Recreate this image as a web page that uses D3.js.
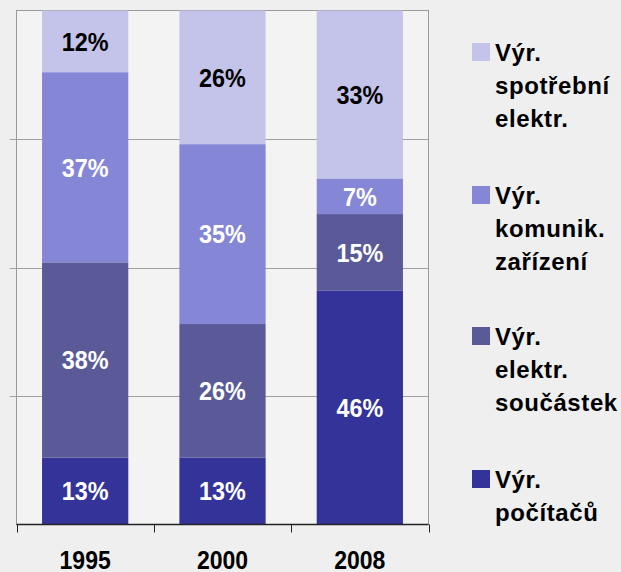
<!DOCTYPE html>
<html>
<head>
<meta charset="utf-8">
<script src="https://cdn.jsdelivr.net/npm/d3@7"></script>
<style>
  body { margin: 0; background: #efefef; }
  text { font-family: "Liberation Sans", Arial, sans-serif; font-weight: bold; }
</style>
</head>
<body>
<script>
// data
var years = ['1995', '2000', '2008'];
var seriesNames = ['Výr. počítačů', 'Výr. elektr. součástek', 'Výr. komunik. zařízení', 'Výr. spotřební elektr.'];
var pocitacu = [13, 13, 46];
var soucastek = [38, 26, 15];
var komunik = [37, 35, 7];
var spotrebni = [12, 26, 33];
var legendLines = [['Výr.', 'počítačů'], ['Výr.', 'elektr.', 'součástek'], ['Výr.', 'komunik.', 'zařízení'], ['Výr.', 'spotřební', 'elektr.']];
var yTicks = [0, 0.25, 0.5, 0.75, 1];

var colors = ['#333399', '#5a5a99', '#8686d7', '#c4c4ea'];
var labelColors = ['#fff', '#fff', '#fff', '#000'];

var W = 621, H = 572;
var pLeft = 16.5, pTop = 10.5, pRight = 428.5, pBottom = 524.5;

var svg = d3.select('body').append('svg')
    .attr('width', W)
    .attr('height', H);

var rows = years.map(function(y, i) {
  return {year: y, s0: pocitacu[i], s1: soucastek[i], s2: komunik[i], s3: spotrebni[i]};
});
var keys = ['s0', 's1', 's2', 's3'];
var stacked = d3.stack().keys(keys).offset(d3.stackOffsetExpand)(rows);

var x = d3.scaleBand().domain(years).range([pLeft, pRight]).paddingInner(0.372).paddingOuter(0.186);
var y = d3.scaleLinear().domain([0, 1]).range([pBottom, pTop]);

// plot area
svg.append('rect')
    .attr('x', pLeft).attr('y', pTop)
    .attr('width', pRight - pLeft).attr('height', pBottom - pTop)
    .attr('fill', '#f3f3f3')
    .attr('stroke', '#9a9a9a');

// grid
svg.selectAll('.grid').data(yTicks.slice(1, 4)).enter().append('line')
    .attr('x1', pLeft - 7).attr('x2', pRight)
    .attr('y1', function(d) { return Math.round(y(d)) + 0.5; })
    .attr('y2', function(d) { return Math.round(y(d)) + 0.5; })
    .attr('stroke', '#a0a0a0');

// bars
var groups = svg.selectAll('.series').data(stacked).enter().append('g')
    .attr('fill', function(d, i) { return colors[i]; });

groups.selectAll('rect').data(function(d) { return d; }).enter().append('rect')
    .attr('x', function(d) { return x(d.data.year); })
    .attr('y', function(d) { return y(d[1]); })
    .attr('width', x.bandwidth())
    .attr('height', function(d) { return y(d[0]) - y(d[1]); });

groups.each(function(s, i) {
  d3.select(this).selectAll('text').data(s).enter().append('text')
      .attr('transform', function(d) {
        return 'translate(' + (x(d.data.year) + x.bandwidth() / 2) + ',' + ((y(d[0]) + y(d[1])) / 2) + ') scale(0.9,1)';
      })
      .attr('dy', '0.36em')
      .attr('text-anchor', 'middle')
      .attr('font-size', 26)
      .attr('fill', labelColors[i])
      .text(function(d) { return d.data[s.key] + '%'; });
});

// x axis
var xAxis = svg.append('g').attr('transform', 'translate(0,' + pBottom + ')');
xAxis.append('line').attr('x1', pLeft).attr('x2', pRight).attr('stroke', '#222').attr('stroke-width', 1.3);
var tickX = [pLeft].concat(years.map(function(d) { return x(d) + x.bandwidth() + x.step() * x.paddingInner() / 2; }));
tickX[tickX.length - 1] = pRight;
xAxis.selectAll('.tk').data(tickX).enter().append('line')
    .attr('x1', function(d) { return Math.round(d) + 0.5; })
    .attr('x2', function(d) { return Math.round(d) + 0.5; })
    .attr('y1', 0).attr('y2', 8)
    .attr('stroke', '#222');
xAxis.selectAll('.lbl').data(years).enter().append('text')
    .attr('transform', function(d) { return 'translate(' + (x(d) + x.bandwidth() / 2) + ',44) scale(0.92,1)'; })
    .attr('text-anchor', 'middle')
    .attr('font-size', 25)
    .attr('fill', '#000')
    .text(function(d) { return d; });

// legend
var legendY = [488, 345, 204, 61];
var legend = svg.selectAll('.legend').data(seriesNames).enter().append('g')
    .attr('transform', function(d, i) { return 'translate(472,' + legendY[i] + ')'; });
legend.append('rect')
    .attr('x', 0).attr('y', -18)
    .attr('width', 18).attr('height', 18)
    .attr('fill', function(d, i) { return colors[i]; });
legend.each(function(d, i) {
  d3.select(this).selectAll('text').data(legendLines[i]).enter().append('text')
      .attr('x', 23)
      .attr('y', function(t, j) { return j * 33; })
      .attr('font-size', 24)
      .attr('letter-spacing', 0.6)
      .attr('fill', '#000')
      .text(function(t) { return t; });
});
</script>
</body>
</html>
